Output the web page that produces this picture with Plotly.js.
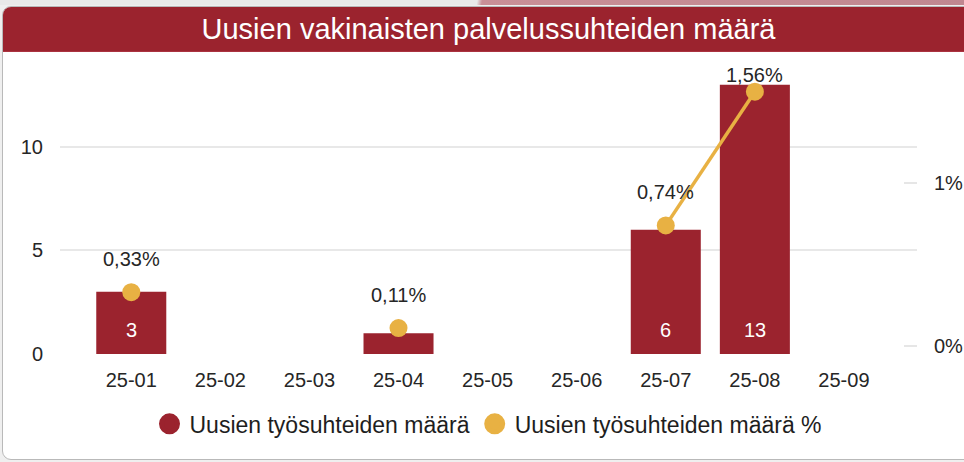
<!DOCTYPE html>
<html>
<head>
<meta charset="utf-8">
<script src="https://cdn.plot.ly/plotly-3.0.1.min.js"></script>
<style>
  html, body { margin: 0; padding: 0; }
  body { width: 964px; height: 462px; overflow: hidden; background: #efefef; position: relative; font-family: "Liberation Sans", Arial, sans-serif; }
  #strip { position: absolute; left: 0; top: 0; width: 964px; height: 5px;
           background: linear-gradient(100deg, #e9e9e9 0, #e9e9e9 470px, #c98f97 475px, #c08790 100%); }
  #card { position: absolute; left: 2px; top: 6px; width: 990px; height: 452px;
          border: 1px solid #b9b9b9; border-radius: 9px; background: #fff; overflow: hidden; }
  #band { position: absolute; left: 0; top: 0; width: 100%; height: 44px; background: #9b232e; border-bottom: 1px solid #ab3340; }
  #chart { position: absolute; left: 0; top: 0; width: 979px; height: 452px; }
</style>
</head>
<body>
<div id="strip"></div>
<div id="card">
  <div id="band"></div>
  <div id="chart"></div>
</div>
<script>
// ---- data ----
const titleText = "Uusien vakinaisten palvelussuhteiden määrä";
const categories = ["25-01", "25-02", "25-03", "25-04", "25-05", "25-06", "25-07", "25-08", "25-09"];
const countName = "Uusien työsuhteiden määrä";
const countValues = [3, null, null, 1, null, null, 6, 13, null];
const pctName = "Uusien työsuhteiden määrä %";
const pctValues = [0.33, null, null, 0.11, null, null, 0.74, 1.56, null];
const leftTicks = [0, 5, 10];
const rightTicks = [0, 1];
const rightTickLabels = ["0%", "1%"];

// ---- style ----
const RED = "#9b232e";
const GOLD = "#e8b143";
const FONT = "Liberation Sans, Arial, sans-serif";
const TXT = "#262626";
const y1Range = [0, 14];
const y2Range = [-0.049, 1.73];
const plotH = 290;
const ppu1 = plotH / (y1Range[1] - y1Range[0]);
const ppu2 = plotH / (y2Range[1] - y2Range[0]);

const fmtPct = v => v.toFixed(2).replace(".", ",") + "%";

const traces = [
  {
    type: "bar", x: categories, y: countValues, name: countName,
    marker: { color: RED }, showlegend: false, hoverinfo: "x+y"
  },
  {
    type: "scatter", mode: "lines+markers", x: categories, y: pctValues, name: pctName,
    yaxis: "y2", connectgaps: false,
    line: { color: GOLD, width: 3.5 },
    marker: { color: GOLD, size: 18 },
    showlegend: false, cliponaxis: false
  },
  {
    type: "scatter", mode: "markers", x: [categories[0]], y: [null], name: countName,
    marker: { color: RED, size: 16, line: { color: RED, width: 5 } }, hoverinfo: "skip"
  },
  {
    type: "scatter", mode: "markers", x: [categories[0]], y: [null], name: pctName,
    yaxis: "y2",
    marker: { color: GOLD, size: 16, line: { color: GOLD, width: 5 } }, hoverinfo: "skip"
  }
];

const annotations = [];
countValues.forEach((v, i) => {
  if (v != null && v * ppu1 >= 40) {
    annotations.push({
      x: categories[i], y: 0, xref: "x", yref: "y", text: String(v),
      showarrow: false, yanchor: "bottom", yshift: 11,
      font: { family: FONT, size: 20, color: "#ffffff" }
    });
  }
});
pctValues.forEach((v, i) => {
  if (v != null) {
    const distTop = (y2Range[1] - v) * ppu2;
    annotations.push({
      x: categories[i], y: v, xref: "x", yref: "y2", text: fmtPct(v),
      showarrow: false, yanchor: "middle", yshift: Math.min(33, distTop - 11),
      font: { family: FONT, size: 20, color: TXT }
    });
  }
});

const layout = {
  width: 979, height: 452,
  margin: { l: 57, r: 65, t: 57, b: 105, pad: 0 },
  paper_bgcolor: "rgba(0,0,0,0)", plot_bgcolor: "rgba(0,0,0,0)",
  font: { family: FONT, size: 20, color: TXT },
  title: {
    text: titleText, x: 0.5, xref: "paper", xanchor: "center",
    y: 1 - 22 / 452, yref: "container", yanchor: "middle",
    font: { family: FONT, size: 29, color: "#ffffff" }
  },
  bargap: 0.214,
  xaxis: {
    type: "category", range: [-0.8, 8.82], showgrid: false, zeroline: false, showline: false,
    ticks: "", ticklabelstandoff: 12, tickfont: { family: FONT, size: 20, color: TXT }
  },
  yaxis: {
    range: y1Range, tickvals: leftTicks, showgrid: true, gridcolor: "#e8e8e8", gridwidth: 2,
    zeroline: false, showline: false, ticks: "", ticklabelstandoff: 16,
    tickfont: { family: FONT, size: 20, color: TXT }
  },
  yaxis2: {
    range: y2Range, overlaying: "y", side: "right",
    tickmode: "array", tickvals: rightTicks, ticktext: rightTickLabels,
    showgrid: false, zeroline: false, showline: false,
    ticks: "inside", ticklen: 13, tickwidth: 2, tickcolor: "#e6e6e6", ticklabelstandoff: 16,
    tickfont: { family: FONT, size: 20, color: TXT }
  },
  legend: {
    orientation: "h", x: 0.5, xanchor: "center", y: -0.241, yanchor: "middle",
    font: { family: FONT, size: 23, color: "#1e1e1e" }, itemwidth: 30,
    bgcolor: "rgba(0,0,0,0)"
  },
  annotations: annotations,
  showlegend: true
};

Plotly.newPlot("chart", traces, layout, { displayModeBar: false, responsive: false });
</script>
</body>
</html>
